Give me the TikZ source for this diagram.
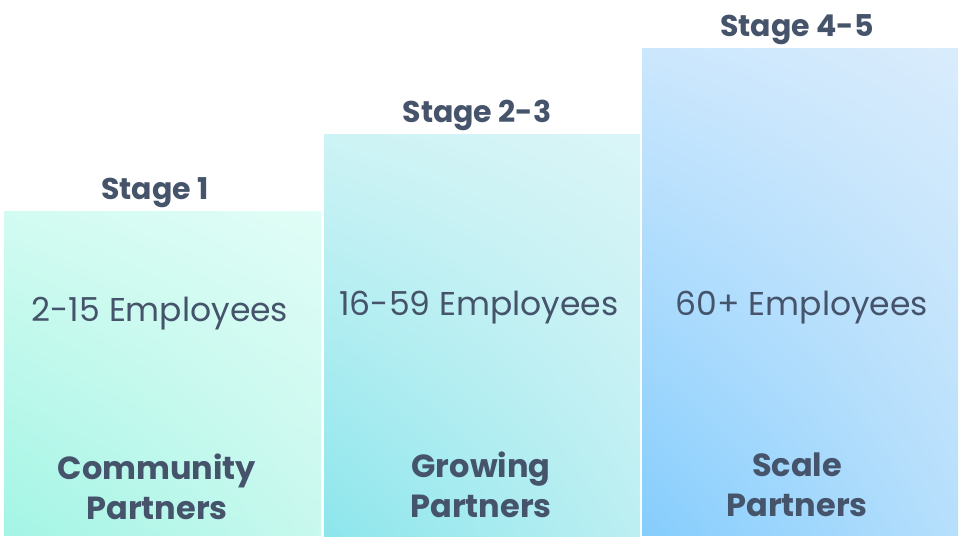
\documentclass[tikz,border=0pt]{standalone}
\usepackage{fontspec}
\usetikzlibrary{shadings}
\setmainfont{Poppins}
\definecolor{txt}{HTML}{45546B}
\definecolor{aLL}{HTML}{A3F5E5}\definecolor{aUR}{HTML}{E0FDF6}\definecolor{aUL}{HTML}{D2FBF1}\definecolor{aLR}{HTML}{C8F8EE}
\definecolor{bLL}{HTML}{8CE6EC}\definecolor{bUR}{HTML}{DAF5F7}\definecolor{bUL}{HTML}{CDF3F5}\definecolor{bLR}{HTML}{BCEFF2}
\definecolor{cLL}{HTML}{85CDFD}\definecolor{cUR}{HTML}{D9ECFC}\definecolor{cUL}{HTML}{CBE7FD}\definecolor{cLR}{HTML}{B6DFFC}
\begin{document}
\begin{tikzpicture}[x=1pt,y=-1pt,
  stagelbl/.style={text=txt,font=\fontsize{30}{34}\selectfont\bfseries,inner sep=0pt,anchor=base},
  emplbl/.style={text=txt,font=\fontsize{33}{38}\selectfont,inner sep=0pt,anchor=base},
  partlbl/.style={text=txt,font=\fontsize{32}{40}\selectfont\bfseries,align=center,inner sep=0pt}]
\useasboundingbox[fill=white] (0,0) rectangle (960,545);
% boxes
\shade[lower left=aLL,upper right=aUR,upper left=aUL,lower right=aLR] (4,212) rectangle (321,535);
\shade[lower left=bLL,upper right=bUR,upper left=bUL,lower right=bLR] (324,135) rectangle (640,536);
\shade[lower left=cLL,upper right=cUR,upper left=cUL,lower right=cLR] (642,49) rectangle (958,535);
% stage titles
\node[stagelbl] (s1) at (155,200) {Stage 1};
\node[stagelbl] (s2) at (477,123) {Stage 2-3};
\node[stagelbl] (s3) at (797,37) {Stage 4-5};
% employees
\node[emplbl] (e1) at (160,321) {2-15 Employees};
\node[emplbl] (e2) at (479,315) {16-59 Employees};
\node[emplbl] (e3) at (802,315) {60+ Employees};
% partners
\node[partlbl] (p1) at (157,487) {Community\\Partners};
\node[partlbl] (p2) at (481,485) {Growing\\Partners};
\node[partlbl] (p3) at (797,485) {Scale\\Partners};
\end{tikzpicture}
\end{document}
